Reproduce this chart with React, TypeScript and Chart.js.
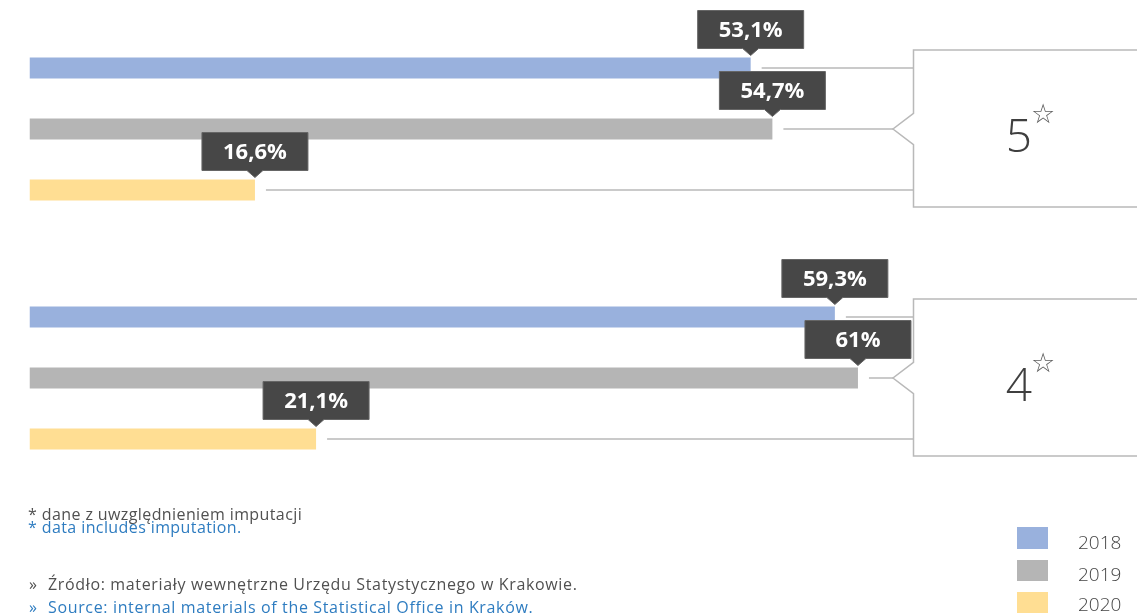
import React, { useEffect, useRef } from "react";
import { Chart, registerables } from "chart.js";

Chart.register(...registerables);

// ---- data ----
const categories = ["5", "4"]; // hotel star category
const years = ["2018", "2019", "2020"];
const values2018 = [53.1, 59.3];
const values2019 = [54.7, 61];
const values2020 = [16.6, 21.1];
const seriesValues = [values2018, values2019, values2020];
const seriesColors = ["#99b1dd", "#b5b5b5", "#ffde93"];
const starMark = "☆";

const notePl = "* dane z uwzględnieniem imputacji";
const noteEn = "* data includes imputation.";
const sourcePl = "Źródło: materiały wewnętrzne Urzędu Statystycznego w Krakowie.";
const sourceEn = "Source: internal materials of the Statistical Office in Kraków.";

const fmt = (v: number) => String(v).replace(".", ",") + "%";

const overlayPlugin = {
  id: "overlay",
  afterDatasetsDraw(chart: any) {
    const ctx: CanvasRenderingContext2D = chart.ctx;
    const metas = [0, 1, 2].map((i) => chart.getDatasetMeta(i));
    const BOX_LEFT = 913.5;
    const NOTCH = 20.5;
    const NOTCH_H = 15.7;
    ctx.save();
    for (let c = 0; c < categories.length; c++) {
      const bars = metas.map((m: any) => m.data[c]);
      const mid = bars[1].y;
      const top = bars[0].y - 18;
      const bottom = bars[2].y + 17;
      ctx.strokeStyle = "#b9b9b9";
      ctx.lineWidth = 1.5;
      bars.forEach((b: any, i: number) => {
        ctx.beginPath();
        ctx.moveTo(b.x + 11, b.y);
        ctx.lineTo(i === 1 ? BOX_LEFT - NOTCH : BOX_LEFT, b.y);
        ctx.stroke();
      });
      ctx.beginPath();
      ctx.moveTo(chart.width + 5, top);
      ctx.lineTo(BOX_LEFT, top);
      ctx.lineTo(BOX_LEFT, mid - NOTCH_H);
      ctx.lineTo(BOX_LEFT - NOTCH, mid);
      ctx.lineTo(BOX_LEFT, mid + NOTCH_H);
      ctx.lineTo(BOX_LEFT, bottom);
      ctx.lineTo(chart.width + 5, bottom);
      ctx.stroke();

      ctx.fillStyle = "#3f3f3f";
      ctx.font = '300 46px "Open Sans"';
      ctx.textAlign = "center";
      ctx.textBaseline = "alphabetic";
      ctx.fillText(categories[c], 1019, mid + 22.7);
      ctx.fillStyle = "#5e5e5e";
      ctx.font = '27px "DejaVu Sans"';
      ctx.textBaseline = "middle";
      ctx.fillText(starMark, 1043, mid - 13.5);
    }
    // callouts
    const W = 106;
    const H = 38;
    for (let d = 0; d < metas.length; d++) {
      metas[d].data.forEach((b: any, i: number) => {
        const cx = b.x;
        const bot = b.y - b.height / 2 - 9;
        ctx.beginPath();
        ctx.moveTo(cx - W / 2, bot - H);
        ctx.lineTo(cx + W / 2, bot - H);
        ctx.lineTo(cx + W / 2, bot);
        ctx.lineTo(cx + 8, bot);
        ctx.lineTo(cx, bot + 7);
        ctx.lineTo(cx - 8, bot);
        ctx.lineTo(cx - W / 2, bot);
        ctx.closePath();
        ctx.fillStyle = "#474747";
        ctx.fill();
        ctx.strokeStyle = "#666666";
        ctx.lineWidth = 1;
        ctx.stroke();
        ctx.fillStyle = "#ffffff";
        ctx.font = 'bold 22px "Open Sans"';
        ctx.textAlign = "center";
        ctx.textBaseline = "middle";
        ctx.fillText(fmt(seriesValues[d][i]), cx, bot - H / 2 + 1);
      });
    }
    ctx.restore();
  },
};

const textBase: React.CSSProperties = {
  position: "absolute",
  whiteSpace: "nowrap",
  fontFamily: '"Open Sans", sans-serif',
  fontSize: 16,
  lineHeight: "16px",
  letterSpacing: "0.4px",
};
const sourceStyle: React.CSSProperties = { ...textBase, letterSpacing: "0.65px" };

export default function App() {
  const ref = useRef<HTMLCanvasElement | null>(null);
  useEffect(() => {
    if (!ref.current) return;
    const chart = new Chart(ref.current, {
      type: "bar",
      data: {
        labels: categories,
        datasets: years.map((y, i) => ({
          label: y,
          data: seriesValues[i],
          backgroundColor: seriesColors[i],
          borderWidth: 0,
          categoryPercentage: 0.735,
          barPercentage: 0.344,
        })),
      },
      options: {
        indexAxis: "y",
        responsive: false,
        animation: false,
        layout: { padding: { left: 29.5, right: 21, top: 4.5, bottom: 113.5 } },
        scales: {
          x: { min: 0, max: 80, display: false },
          y: { display: false, offset: true },
        },
        plugins: { legend: { display: false }, tooltip: { enabled: false } },
      },
      plugins: [overlayPlugin],
    } as any);
    return () => chart.destroy();
  }, []);

  const legendTops = [533.1, 564.8, 594.8];
  const legendBoxTops = [527.3, 559.8, 591.7];

  return (
    <div style={{ position: "absolute", left: 0, top: 0, width: 1137, height: 616, overflow: "hidden", background: "#fff" }}>
      <canvas ref={ref} width={1137} height={616} style={{ position: "absolute", left: 0, top: 0, width: 1137, height: 616 }} />
      <div style={{ ...textBase, left: 28, top: 505.8, color: "#505050" }}>{notePl}</div>
      <div style={{ ...textBase, left: 28, top: 519.3, color: "#2e7cc0" }}>{noteEn}</div>
      <div style={{ ...textBase, left: 29, top: 575.8, color: "#505050", letterSpacing: 0 }}>»</div>
      <div style={{ ...sourceStyle, left: 48, top: 575.8, color: "#505050" }}>{sourcePl}</div>
      <div style={{ ...textBase, left: 29, top: 599.1, color: "#2e7cc0", letterSpacing: 0 }}>»</div>
      <div style={{ ...sourceStyle, left: 48, top: 599.1, color: "#2e7cc0" }}>{sourceEn}</div>
      {years.map((y, i) => (
        <React.Fragment key={y}>
          <div style={{ position: "absolute", left: 1017, top: legendBoxTops[i], width: 30.5, height: 21.5, background: seriesColors[i] }} />
          <div style={{ ...textBase, left: 1078, top: legendTops[i], fontSize: 19, lineHeight: "19px", fontWeight: 300, letterSpacing: 0, color: "#444" }}>{y}</div>
        </React.Fragment>
      ))}
    </div>
  );
}
